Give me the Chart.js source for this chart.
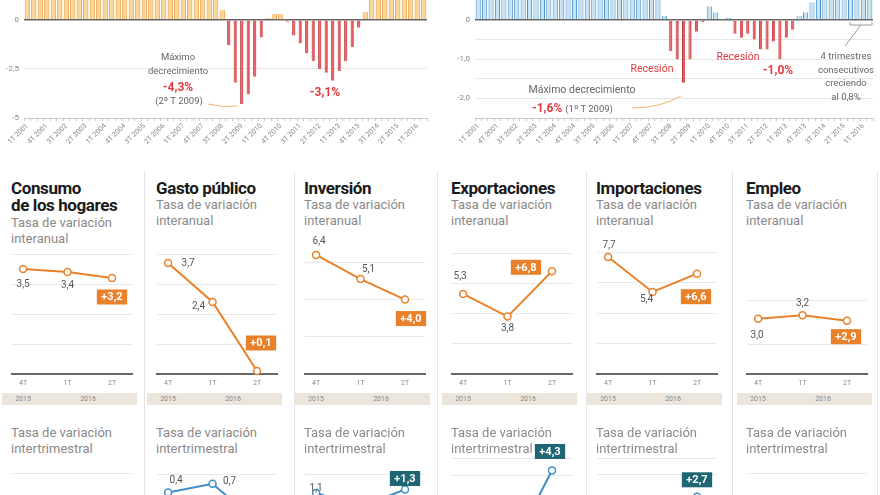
<!DOCTYPE html>
<html>
<head>
<meta charset="utf-8">
<script src="https://cdn.jsdelivr.net/npm/chart.js@4/dist/chart.umd.min.js"></script>
<style>
  body { margin: 0; width: 880px; height: 495px; overflow: hidden; background: #fff; position: relative; font-family: Roboto, "Liberation Sans", sans-serif; }
  canvas, .t, .sep, .band, svg { position: absolute; }
  .t { white-space: nowrap; line-height: 1; }
  .note { font-size: 9.5px; color: #666; transform: translateX(-50%); }
  .red { font-size: 12px; color: #e2383d; font-weight: 700; transform: translateX(-50%); }
  .tit { font-size: 17px; font-weight: 700; color: #1a1a1a; letter-spacing: -0.4px; line-height: 17px; }
  .sub { font-size: 13px; color: #8a8a8a; line-height: 15.5px; }
  .sep { width: 1px; background: #e4e4e4; top: 172px; height: 323px; }
  .band { height: 12px; top: 393px; background: #ece5dc; }
  .yr { font-size: 7px; color: #888; transform: translateX(-50%); }
</style>
</head>
<body>
<canvas id="pibA" width="440" height="175" style="left:0;top:-10px"></canvas>
<canvas id="pibT" width="440" height="175" style="left:440px;top:-10px"></canvas>

<svg width="880" height="170" style="left:0;top:0">
  <path d="M208 104 Q222 108 238 106" fill="none" stroke="#f0b36a" stroke-width="1"/>
  <path d="M632 108 Q660 108 681 96" fill="none" stroke="#f0b36a" stroke-width="1"/>
  <path d="M850 22 L850 25 L872 25 L872 22 M861 25 L845 46" fill="none" stroke="#999" stroke-width="1"/>
</svg>

<div class="t note" style="left:178px;top:52px">Máximo</div>
<div class="t note" style="left:178px;top:66px">decrecimiento</div>
<div class="t red" style="left:178px;top:81px">-4,3%</div>
<div class="t note" style="left:179px;top:96px">(2º T 2009)</div>
<div class="t red" style="left:325px;top:86px">-3,1%</div>

<div class="t red" style="left:652px;top:64px;font-weight:400;font-size:10.5px">Recesión</div>
<div class="t red" style="left:738px;top:52px;font-weight:400;font-size:10.5px">Recesión</div>
<div class="t red" style="left:778px;top:64px">-1,0%</div>
<div class="t note" style="left:846px;top:51px">4 trimestres</div>
<div class="t note" style="left:846px;top:65px">consecutivos</div>
<div class="t note" style="left:846px;top:78px">creciendo</div>
<div class="t note" style="left:846px;top:92px">al 0,8%</div>
<div class="t note" style="left:582px;top:85px;font-size:10.5px">Máximo decrecimiento</div>
<div class="t" style="left:532px;top:102px;font-size:12px;color:#e2383d;font-weight:700">-1,6% <span style="font-size:9.5px;color:#666;font-weight:400">(1º T 2009)</span></div>

<script>
// Trimestres 1T 2001 - 2T 2016
const anios = [2001, 2002, 2003, 2004, 2005, 2006, 2007, 2008, 2009, 2010, 2011, 2012, 2013, 2014, 2015, 2016];
const nombresTrim = ['1T', '2T', '3T', '4T'];
const trimestres = [];
anios.forEach(a => nombresTrim.forEach(q => trimestres.push(q + ' ' + a)));
trimestres.length = 62;

// PIB, tasa de variación interanual
const pibInteranual = [
  4.0, 3.8, 3.6, 3.3, 2.8, 2.6, 2.6, 2.7, 3.0, 3.1, 3.2, 3.2, 3.3, 3.3, 3.3, 3.4,
  3.6, 3.6, 3.7, 3.7, 4.0, 4.1, 4.1, 4.1, 4.0, 3.9, 3.6, 3.4, 2.6, 1.6, 0.5, -1.3,
  -3.2, -4.3, -3.8, -2.9, -0.9, 0.1, 0.3, 0.3, -0.1, -0.8, -1.2, -1.7, -2.1, -2.5, -2.7, -3.1,
  -2.6, -2.1, -1.4, -0.4, 0.4, 1.2, 1.6, 2.1, 2.7, 3.2, 3.4, 3.5, 3.4, 3.2
];
// PIB, tasa de variación intertrimestral
const pibIntertrimestral = [
  0.8, 0.7, 0.7, 0.6, 0.6, 0.7, 0.6, 0.6, 0.8, 0.8, 0.7, 0.8, 0.8, 0.8, 0.8, 0.9,
  0.9, 0.9, 0.9, 0.9, 1.0, 1.0, 0.9, 1.0, 1.0, 0.8, 0.8, 0.8, 0.6, 0.1, -0.8, -1.0,
  -1.6, -1.0, -0.3, -0.05, 0.35, 0.2, 0.0, 0.05, -0.35, -0.45, -0.35, -0.5, -0.75, -0.75, -0.55, -1.0,
  -0.45, -0.25, 0.1, 0.2, 0.45, 0.6, 0.6, 0.7, 0.9, 1.0, 0.8, 0.8, 0.8, 0.8
];

const periodos = ['4T', '1T', '2T'];
const titulos = [['Consumo', 'de los hogares'], ['Gasto público'], ['Inversión'], ['Exportaciones'], ['Importaciones'], ['Empleo']];
const interanual = [
  [3.5, 3.4, 3.2],
  [3.7, 2.4, 0.1],
  [6.4, 5.1, 4.0],
  [5.3, 3.8, 6.8],
  [7.7, 5.4, 6.6],
  [3.0, 3.2, 2.9]
];
const intertrimestral = [
  [0.8, 0.6, 0.7],
  [0.4, 0.7, -0.6],
  [1.1, 0.3, 1.3],
  [1.2, -0.8, 4.3],
  [1.0, 0.5, 2.7],
  [0.6, 0.5, 0.8]
];

// layout of the small panels
const ejeX = [12, 157, 305, 452, 597, 747];
const separadores = [144, 294, 437, 586, 732, 877];
const escalaA = [
  { max: 4.2, grid: [1, 2, 3, 4] }, { max: 4.2, grid: [1, 2, 3, 4] }, { max: 6.77, grid: [2, 4, 6] },
  { max: 8.34, grid: [2, 4, 6, 8] }, { max: 8.29, grid: [2, 4, 6, 8] }, { max: 6.85, grid: [1.6, 4] }
];
const escalaT = [
  { min: -3, max: 2.7, grid: [2] }, { min: -2.72, max: 1.58, grid: [1] }, { min: -4.1, max: 3.1, grid: [2.15] },
  { min: -2.43, max: 5.04, grid: [4, 5] }, { min: -2.47, max: 5.0, grid: [4, 5] }, { min: -3, max: 2.7, grid: [2] }
];
const etiqA = [
  { labels: [[0, 0, 15], [1, 0, 13]], badge: [2, 0, 19] },
  { labels: [[0, 20, 0], [1, -14, 4]], badge: [2, 4, -28] },
  { labels: [[0, 3, -13], [1, 8, -10]], badge: [2, 6, 19] },
  { labels: [[0, -3, -17], [1, 0, 12]], badge: [2, -26, -4] },
  { labels: [[0, 1, -11], [1, -6, 8]], badge: [2, -1, 23] },
  { labels: [[0, -1, 17], [1, 0, -12]], badge: [2, -1, 16] }
];
const etiqT = [
  { labels: [] },
  { labels: [[0, 8, -12], [1, 17, -2]] },
  { labels: [[0, 0, -5]], badge: [2, 0, -11] },
  { labels: [], badge: [2, -2, -19] },
  { labels: [], badge: [2, 0, -17] },
  { labels: [] }
];

const fmt = v => v.toFixed(1).replace('.', ',');

const etiquetas = {
  id: 'etiquetas',
  afterDatasetsDraw(chart, args, opts) {
    if (!opts.conf) return;
    const ctx = chart.ctx;
    const meta = chart.getDatasetMeta(0);
    const vals = chart.data.datasets[0].data;
    ctx.save();
    ctx.textAlign = 'center';
    ctx.textBaseline = 'middle';
    ctx.font = '10px Roboto, sans-serif';
    ctx.fillStyle = '#555';
    opts.conf.labels.forEach(([i, dx, dy]) => {
      const p = meta.data[i];
      ctx.fillText(fmt(vals[i].y), p.x + dx, p.y + dy);
    });
    if (opts.conf.badge) {
      const [i, dx, dy] = opts.conf.badge;
      const p = meta.data[i];
      const txt = '+' + fmt(vals[i].y);
      ctx.font = 'bold 11px Roboto, sans-serif';
      const w = ctx.measureText(txt).width + 9;
      ctx.fillStyle = opts.badgeColor;
      ctx.fillRect(p.x + dx - w / 2, p.y + dy - 7.5, w, 15);
      ctx.fillStyle = '#fff';
      ctx.fillText(txt, p.x + dx, p.y + dy + 0.5);
    }
    ctx.restore();
  }
};

function barras(id, values, posFill, posLine, yMin, yMax, yTicks, yLabel, axisW, padRight) {
  new Chart(document.getElementById(id), {
    type: 'bar',
    data: {
      labels: trimestres,
      datasets: [
        { data: values.map(v => v > 0 ? v : null), backgroundColor: posFill, borderColor: posLine,
          borderWidth: { left: 1, right: 1, top: 0, bottom: 0 }, barPercentage: 0.8, categoryPercentage: 1, grouped: false },
        { data: values.map(v => v < 0 ? v : null), backgroundColor: '#e55a5e', borderColor: '#b8353a',
          borderWidth: { left: 1, right: 0, top: 0, bottom: 0 }, barPercentage: 0.5, categoryPercentage: 1, grouped: false }
      ]
    },
    options: {
      animation: false, responsive: false,
      layout: { padding: { left: 0, right: padRight, top: 0, bottom: 0 } },
      plugins: { legend: { display: false }, tooltip: { enabled: false } },
      scales: {
        x: {
          grid: { drawOnChartArea: false, tickLength: 3, color: '#c8c8c8' },
          border: { color: '#c8c8c8' },
          ticks: { autoSkip: false, minRotation: 45, maxRotation: 45, padding: 1, color: '#888',
            font: { size: 7, family: 'Roboto' }, callback: (v, i) => i % 3 === 0 ? trimestres[i] : '' },
          afterFit: s => { s.height = 47; }
        },
        y: {
          min: yMin, max: yMax,
          afterBuildTicks: s => { s.ticks = yTicks.map(v => ({ value: v })); },
          grid: { drawTicks: false, color: c => c.tick.value === 0 ? '#666' : '#e6e6e6', lineWidth: c => c.tick.value === 0 ? 1.5 : 1 },
          border: { display: false },
          ticks: { callback: yLabel, color: '#888', font: { size: 8, family: 'Roboto' }, padding: 5 },
          afterFit: s => { s.width = axisW; }
        }
      }
    }
  });
}

barras('pibA', pibInteranual, '#fbd595', '#eb9533', -5, 1.02, [-5, -2.5, 0],
  v => v === 0 ? '0' : String(v).replace('.', ','), 24, 13);
barras('pibT', pibIntertrimestral, '#c6e3f4', '#4a92c9', -2.5, 0.515, [-2.5, -2, -1.5, -1, -0.5, 0],
  v => v === 0 ? '0' : (Number.isInteger(v) ? fmt(v) : ''), 35, 7);

function lineas(x0, top, height, vals, color, esc, conf, badgeColor, showX, padTop) {
  const c = document.createElement('canvas');
  c.width = 146; c.height = height;
  c.style.left = (x0 - 12) + 'px';
  c.style.top = top + 'px';
  document.body.appendChild(c);
  new Chart(c, {
    type: 'line',
    data: { datasets: [{
      data: vals.map((v, i) => ({ x: i, y: v })),
      borderColor: color, borderWidth: 2, pointRadius: 3.5, pointBorderWidth: 1.5,
      pointBackgroundColor: '#fff', pointBorderColor: color, clip: false
    }] },
    options: {
      animation: false, responsive: false,
      layout: { padding: { left: 12, right: 14, top: padTop, bottom: 0 } },
      plugins: { legend: { display: false }, tooltip: { enabled: false }, etiquetas: { conf, badgeColor } },
      scales: {
        x: {
          type: 'linear', min: -0.25, max: 2.45, display: showX,
          afterBuildTicks: s => { s.ticks = [0, 1, 2].map(v => ({ value: v })); },
          grid: { display: false, drawTicks: false },
          border: { color: '#666', width: 2 },
          ticks: { callback: v => periodos[v], color: '#888', font: { size: 7, family: 'Roboto' }, padding: 5 },
          afterFit: s => { s.height = 16; }
        },
        y: {
          min: esc.min || 0, max: esc.max,
          afterBuildTicks: s => { s.ticks = esc.grid.map(v => ({ value: v })); },
          grid: { drawTicks: false, color: '#e8e8e8' },
          border: { display: false },
          ticks: { display: false },
          afterFit: s => { s.width = 0; }
        }
      }
    },
    plugins: [etiquetas]
  });
}

titulos.forEach((t, p) => {
  const x0 = ejeX[p];
  const sep = document.createElement('div');
  sep.className = 'sep';
  sep.style.left = separadores[p] + 'px';
  document.body.appendChild(sep);

  const tit = document.createElement('div');
  tit.className = 't tit';
  tit.style.left = (x0 - 1) + 'px';
  tit.style.top = '180px';
  tit.innerHTML = t.join('<br>');
  document.body.appendChild(tit);

  const sub = document.createElement('div');
  sub.className = 't sub';
  sub.style.left = (x0 - 1) + 'px';
  sub.style.top = (t.length > 1 ? 215 : 197) + 'px';
  sub.innerHTML = 'Tasa de variación<br>interanual';
  document.body.appendChild(sub);

  const band = document.createElement('div');
  band.className = 'band';
  band.style.left = (x0 - 10) + 'px';
  band.style.width = '135px';
  document.body.appendChild(band);
  [['2015', 11], ['2016', 76]].forEach(([y, dx]) => {
    const d = document.createElement('div');
    d.className = 't yr';
    d.style.left = (x0 + dx) + 'px';
    d.style.top = '396px';
    d.textContent = y;
    document.body.appendChild(d);
  });

  const sub2 = document.createElement('div');
  sub2.className = 't sub';
  sub2.style.left = (x0 - 1) + 'px';
  sub2.style.top = '425px';
  sub2.innerHTML = 'Tasa de variación<br>intertrimestral';
  document.body.appendChild(sub2);

  lineas(x0, 230, 160, interanual[p], '#e8812a', escalaA[p], etiqA[p], '#e8812a', true, 18);
  lineas(x0, 440, 160, intertrimestral[p], '#3d8fc6', escalaT[p], etiqT[p], '#1e6673', false, 18);
});
</script>
</body>
</html>
